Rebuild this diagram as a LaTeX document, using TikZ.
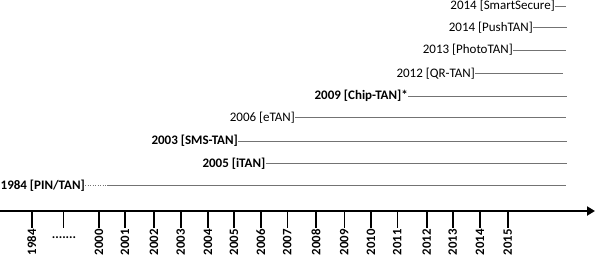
\documentclass[tikz,border=0pt]{standalone}
\usepackage{fontspec}
\setmainfont{Carlito}
\usetikzlibrary{arrows.meta}
\begin{document}
\begin{tikzpicture}[x=1pt,y=-1pt,
  lab/.style={anchor=east,inner sep=0pt,font=\fontsize{13}{15}\selectfont},
  blab/.style={lab,font=\fontsize{13}{15}\selectfont\bfseries},
  bar/.style={draw=gray!90!black,line width=1pt},
  tick/.style={draw=black,line width=1.6pt},
  ylab/.style={rotate=90,anchor=east,inner sep=0pt,font=\fontsize{12.8}{15}\selectfont\bfseries}]
\useasboundingbox (0,0) rectangle (595,258);
% bars
\node[lab] (t1) at (555,6) {2014 [SmartSecure]};
\coordinate (e1) at (566,6);
\draw[bar] (t1.east) -- (e1);
\node[lab] (t2) at (533,27.5) {2014 [PushTAN]};
\coordinate (e2) at (567,27.5);
\draw[bar] (t2.east) -- (e2);
\node[lab] (t3) at (513,50) {2013 [PhotoTAN]};
\coordinate (e3) at (566,50);
\draw[bar] (t3.east) -- (e3);
\node[lab] (t4) at (475,73.3) {2012 [QR-TAN]};
\coordinate (e4) at (563,73.3);
\draw[bar] (t4.east) -- (e4);
\node[blab] (t5) at (408,96) {2009 [Chip-TAN]*};
\coordinate (e5) at (567,96);
\draw[bar] (t5.east) -- (e5);
\node[lab] (t6) at (295,117.5) {2006 [eTAN]};
\coordinate (e6) at (566,117.5);
\draw[bar] (t6.east) -- (e6);
\node[blab] (t7) at (238,141) {2003 [SMS-TAN]};
\coordinate (e7) at (567,141);
\draw[bar] (t7.east) -- (e7);
\node[blab] (t8) at (265.5,163.3) {2005 [iTAN]};
\coordinate (e8) at (567,163.3);
\draw[bar] (t8.east) -- (e8);
\node[blab] (t9) at (85,185.7) {1984 [PIN/TAN]};
\coordinate (d9) at (107,185.7);
\coordinate (e9) at (566,185.7);
\draw[bar,line width=0.8pt,dash pattern=on 1pt off 1.5pt] (t9.east) -- (d9);
\draw[bar] (d9) -- (e9);
% axis
\coordinate (a0) at (0,211);
\coordinate (a1) at (595,211);
\draw[line width=2.6pt,-{Triangle[length=8pt,width=9pt]}] (a0) -- (a1);
\foreach \x/\y in {31.7/1984,99/2000,125/2001,154/2002,180.7/2003,208/2004,234/2005,260.7/2006,287.3/2007,316/2008,344.3/2009,371/2010,397.3/2011,426.7/2012,452.7/2013,480/2014,507.7/2015}{
  \draw[tick] (\x,211) -- (\x,228);
  \node[ylab] (y\y) at (\x,229) {\y};
}
\draw[tick] (63.3,211) -- (63.3,228);
\node[inner sep=0pt,font=\fontsize{13}{15}\selectfont\bfseries] (dots) at (64,238) {.......};
\end{tikzpicture}
\end{document}
